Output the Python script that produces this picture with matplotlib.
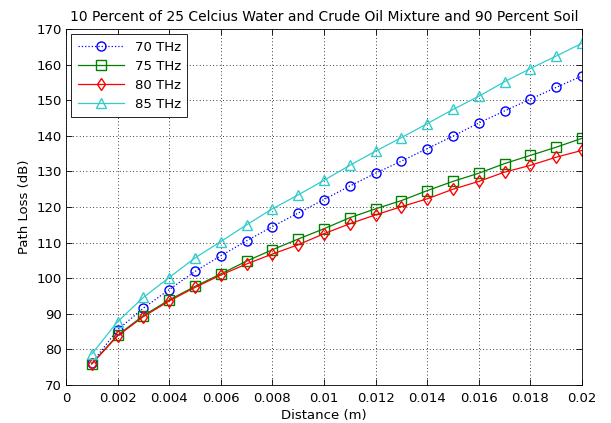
import numpy as np
import matplotlib
matplotlib.use("Agg")
import matplotlib.pyplot as plt

# Distances (m) and path loss (dB)
distance = [0.001, 0.002, 0.003, 0.004, 0.005, 0.006, 0.007, 0.008, 0.009, 0.010,
            0.011, 0.012, 0.013, 0.014, 0.015, 0.016, 0.017, 0.018, 0.019, 0.020]
loss_70 = [76.2, 85.5, 91.6, 96.8, 101.9, 106.3, 110.5, 114.5, 118.3, 122.1,
           125.9, 129.5, 132.9, 136.4, 139.9, 143.6, 147.0, 150.3, 153.6, 156.8]
loss_75 = [76.0, 84.0, 89.5, 93.9, 97.7, 101.2, 104.8, 108.0, 111.0, 113.9,
           117.0, 119.5, 121.8, 124.6, 127.2, 129.5, 132.2, 134.5, 136.8, 139.3]
loss_80 = [75.9, 83.8, 89.2, 93.6, 97.4, 100.9, 104.0, 106.8, 109.4, 112.5,
           115.3, 117.8, 120.1, 122.3, 125.0, 127.2, 129.8, 131.7, 134.0, 135.9]
loss_85 = [78.7, 87.8, 94.6, 100.2, 105.7, 110.3, 115.0, 119.5, 123.4, 127.5,
           131.7, 135.7, 139.5, 143.4, 147.4, 151.1, 155.2, 158.9, 162.4, 166.0]
labels = ['70 THz', '75 THz', '80 THz', '85 THz']

plt.rcParams['font.family'] = ['DejaVu Sans']
plt.rcParams['font.size'] = 9.5

fig = plt.figure(figsize=(6.11, 4.23), dpi=100)
ax = fig.add_axes([0.108, 0.0898, 0.8445, 0.8416])

ax.plot(distance, loss_70, ':', color='blue', marker='o', markersize=6.5,
        markerfacecolor='none', linewidth=0.9, label=labels[0])
ax.plot(distance, loss_75, '-', color='#008000', marker='s', markersize=6.5,
        markerfacecolor='none', linewidth=0.9, label=labels[1])
ax.plot(distance, loss_80, '-', color='red', marker='d', markersize=6.5,
        markerfacecolor='none', linewidth=0.9, label=labels[2])
ax.plot(distance, loss_85, '-', color='#33cccc', marker='^', markersize=6.5,
        markerfacecolor='none', linewidth=0.9, label=labels[3])

ax.set_xlim(0, 0.02)
ax.set_ylim(70, 170)
ax.set_xticks(np.arange(0, 0.0201, 0.002))
ax.set_xticklabels(['0', '0.002', '0.004', '0.006', '0.008', '0.01', '0.012',
                    '0.014', '0.016', '0.018', '0.02'])
ax.set_yticks(np.arange(70, 171, 10))
ax.tick_params(direction='in', top=True, right=True, length=4, width=0.6, pad=3)
ax.tick_params(axis='x', pad=5)
ax.grid(True, linestyle=(0, (1, 3)), color='black', linewidth=0.6)
for s in ax.spines.values():
    s.set_linewidth(0.6)

ax.set_xlabel('Distance (m)', labelpad=3)
ax.set_ylabel('Path Loss (dB)', labelpad=4)
ax.set_title('10 Percent of 25 Celcius Water and Crude Oil Mixture and 90 Percent Soil',
             fontsize=10, pad=6)

leg = ax.legend(loc='upper left', fancybox=False, framealpha=1, edgecolor='black',
                handlelength=3.5, borderpad=0.5, labelspacing=0.45,
                borderaxespad=0.4)
leg.get_frame().set_linewidth(0.6)

plt.savefig('out.png', dpi=100)
